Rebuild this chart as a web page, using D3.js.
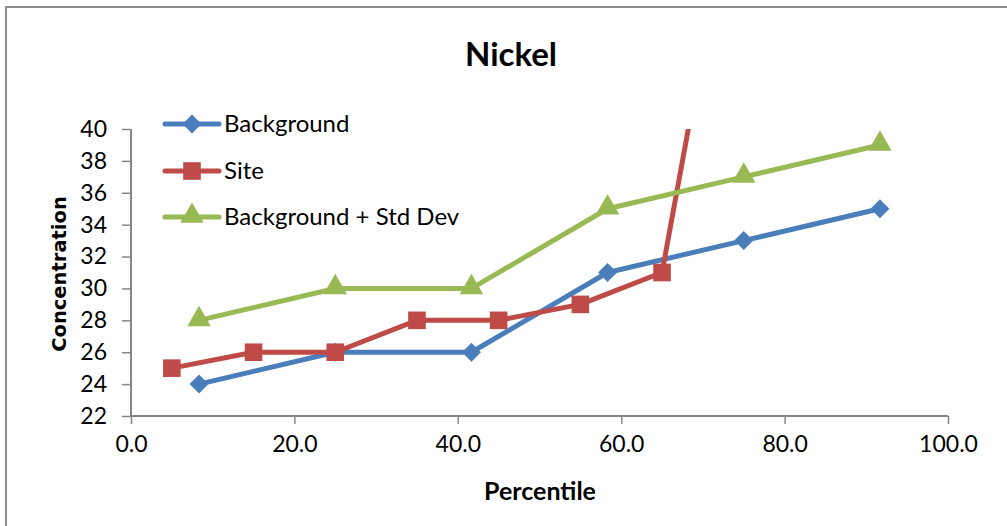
<!DOCTYPE html>
<html>
<head>
<meta charset="utf-8">
<script src="https://cdn.jsdelivr.net/npm/d3@7"></script>
<style>
  html, body { margin: 0; padding: 0; background: #fff; }
  svg { display: block; }
</style>
</head>
<body>
<svg id="chart" width="1007" height="526"></svg>
<script>
// Percentile positions and concentrations for each series
const bgPercentile = [8.33, 25, 41.67, 58.33, 75, 91.67];
const bgValues = [24, 26, 26, 31, 33, 35];

const sitePercentile = [5, 15, 25, 35, 45, 55, 65, 75];
const siteValues = [25, 26, 26, 28, 28, 29, 31, 59];

const sdPercentile = [8.33, 25, 41.67, 58.33, 75, 91.67];
const sdValues = [28, 30, 30, 35, 37, 39];

const xTicks = [0, 20, 40, 60, 80, 100];
const yTicks = [22, 24, 26, 28, 30, 32, 34, 36, 38, 40];

const seriesNames = ["Background", "Site", "Background + Std Dev"];
const seriesColors = ["#4A7EBB", "#BE4B48", "#98B954"];

const labelFont = "Lato, 'Open Sans', sans-serif";

const svg = d3.select("#chart");

// Outer chart frame
svg.append("rect")
  .attr("x", 6).attr("y", 7)
  .attr("width", 1010).attr("height", 530)
  .attr("fill", "#fff")
  .attr("stroke", "#8c8c8c")
  .attr("stroke-width", 2);

const x = d3.scaleLinear().domain([0, 100]).range([131, 948]);
const y = d3.scaleLinear().domain([22, 40]).range([416, 129]);

// Clip region = plot area
svg.append("defs").append("clipPath").attr("id", "plot-clip")
  .append("rect")
  .attr("x", x(0)).attr("y", y(40))
  .attr("width", x(100) - x(0)).attr("height", y(22) - y(40));

// Y axis
const yAxis = svg.append("g")
  .attr("transform", `translate(${x(0)},0)`)
  .call(d3.axisLeft(y).tickValues(yTicks).tickSize(9).tickPadding(15).tickFormat(d3.format("d")));

// X axis
const xAxis = svg.append("g")
  .attr("transform", `translate(0,${y(22)})`)
  .call(d3.axisBottom(x).tickValues(xTicks).tickSize(8).tickPadding(12).tickFormat(d3.format(".1f")));

[yAxis, xAxis].forEach(ax => {
  ax.select(".domain").attr("stroke", "#868686").attr("stroke-width", 2);
  ax.selectAll(".tick line").attr("stroke", "#868686").attr("stroke-width", 1.5);
  ax.selectAll(".tick text")
    .attr("fill", "#000")
    .style("font-family", labelFont)
    .style("font-size", "23px");
});
// Domain path without outer ticks
yAxis.select(".domain").attr("d", `M0,${y(22)}V${y(40)}`);
xAxis.select(".domain").attr("d", `M${x(0)},0H${x(100)}`);

// Titles
svg.append("text")
  .attr("x", 511).attr("y", 66)
  .attr("text-anchor", "middle")
  .style("font-family", labelFont)
  .style("font-weight", "bold")
  .style("font-size", "33px")
  .text("Nickel");

svg.append("text")
  .attr("x", 540).attr("y", 500)
  .attr("text-anchor", "middle")
  .style("font-family", labelFont)
  .style("font-weight", "bold")
  .style("font-size", "25px")
  .text("Percentile");

svg.append("text")
  .attr("transform", "translate(66,274) rotate(-90)")
  .attr("text-anchor", "middle")
  .style("font-family", "'DejaVu Sans', sans-serif")
  .style("font-weight", "bold")
  .style("font-size", "19.5px")
  .text("Concentration");

// Series
const series = [
  { xs: bgPercentile, ys: bgValues, shape: "diamond" },
  { xs: sitePercentile, ys: siteValues, shape: "square" },
  { xs: sdPercentile, ys: sdValues, shape: "triangle" }
];

const line = d3.line().x(d => x(d[0])).y(d => y(d[1]));

const symbolFor = {
  diamond: d3.symbol().type(d3.symbolDiamond2).size(230),
  square: d3.symbol().type(d3.symbolSquare).size(310),
  triangle: d3.symbol().type(d3.symbolTriangle).size(240)
};

const plot = svg.append("g").attr("clip-path", "url(#plot-clip)");

series.forEach((s, i) => {
  const pts = s.xs.map((v, k) => [v, s.ys[k]]);
  const g = plot.append("g");
  g.append("path")
    .datum(pts)
    .attr("fill", "none")
    .attr("stroke", seriesColors[i])
    .attr("stroke-width", 5)
    .attr("stroke-linejoin", "round")
    .attr("d", line);
  g.selectAll("path.mark")
    .data(pts)
    .join("path")
    .attr("class", "mark")
    .attr("transform", d => `translate(${x(d[0])},${y(d[1]) + (s.shape === "triangle" ? -1 : 0)})`)
    .attr("fill", seriesColors[i])
    .attr("d", symbolFor[s.shape]);
});

// Legend
const legend = svg.append("g");
const legendY = [124, 171, 217];
seriesNames.forEach((name, i) => {
  const g = legend.append("g").attr("transform", `translate(0,${legendY[i]})`);
  g.append("line")
    .attr("x1", 165).attr("x2", 219)
    .attr("y1", 0).attr("y2", 0)
    .attr("stroke", seriesColors[i])
    .attr("stroke-width", 5)
    .attr("stroke-linecap", "round");
  g.append("path")
    .attr("transform", `translate(192,${series[i].shape === "triangle" ? -1 : 0})`)
    .attr("fill", seriesColors[i])
    .attr("d", symbolFor[series[i].shape]);
  g.append("text")
    .attr("x", 224).attr("y", 8)
    .style("font-family", labelFont)
    .style("font-size", "24px")
    .text(name);
});
</script>
</body>
</html>
